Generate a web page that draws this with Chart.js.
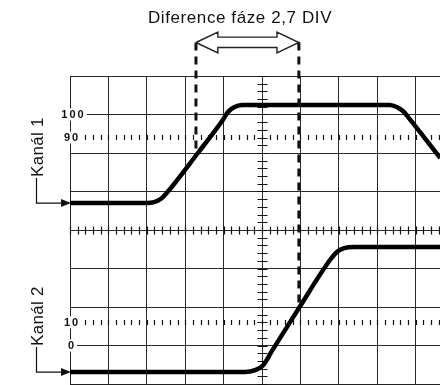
<!DOCTYPE html>
<html>
<head>
<meta charset="utf-8">
<script src="https://cdn.jsdelivr.net/npm/chart.js@4.4.1/dist/chart.umd.min.js"></script>
<style>
  html, body { margin: 0; padding: 0; background: #fff; overflow: hidden; }
  canvas { display: block; }
</style>
</head>
<body>
<canvas id="scope" width="440" height="385"></canvas>
<script>
// screen units are graticule divisions (x: 0..10, y: 0..8)
const titleText = 'Diference fáze 2,7 DIV';
const channelNames = ['Kanál 1', 'Kanál 2'];

const ch1X = [0, 2.0, 2.21, 2.37, 2.5, 3.33, 3.96, 4.11, 4.27, 4.48, 8.33, 8.52, 8.67, 8.8, 9.64];
const ch1Y = [4.70, 4.70, 4.73, 4.81, 4.94, 6.0, 6.83, 7.06, 7.19, 7.25, 7.25, 7.19, 7.09, 6.94, 5.87];

const ch2X = [0, 4.56, 4.82, 5.03, 5.26, 5.96, 6.77, 6.95, 7.14, 7.40, 9.64];
const ch2Y = [0.31, 0.31, 0.36, 0.49, 0.86, 1.97, 3.22, 3.43, 3.53, 3.56, 3.56];

// phase difference markers
const markerX = [3.28, 5.96];
const markerTop = 8.87;
const markerBottom = [6.0, 1.97];

// double arrow outline between the markers
const arrowX = [3.28, 3.85, 3.85, 5.39, 5.39, 5.96, 5.39, 5.39, 3.85, 3.85, 3.28];
const arrowY = [8.87, 9.14, 9.01, 9.01, 9.14, 8.87, 8.60, 8.74, 8.74, 8.60, 8.87];

// rise time levels
const levelLabels = ['100', '90', '10', '0'];
const levelValues = [7, 6.4, 1.6, 1];
const dottedLevels = [6.4, 1.6];

const centerX = 5, centerY = 4, minorStep = 0.2;

function pts(xs, ys) {
    return xs.map((v, i) => ({x: v, y: ys[i]}));
}

const graticule = {
    id: 'graticule',
    beforeDatasetsDraw(chart) {
        const {ctx, scales: {x, y}} = chart;
        const cx = Math.round(x.getPixelForValue(centerX)) + 0.5;
        const cy = Math.round(y.getPixelForValue(centerY)) + 0.5;
        ctx.save();
        ctx.strokeStyle = '#111';
        ctx.lineWidth = 1.2;
        ctx.beginPath();
        for (let v = 0; v <= x.max + 1e-6; v += minorStep) {
            const px = Math.round(x.getPixelForValue(v)) + 0.5;
            ctx.moveTo(px, cy - 4); ctx.lineTo(px, cy + 4);
            dottedLevels.forEach(l => {
                const py = y.getPixelForValue(l);
                ctx.moveTo(px, py - 2.5); ctx.lineTo(px, py + 2.5);
            });
        }
        for (let v = 0; v <= y.max + 1e-6; v += minorStep) {
            const py = Math.round(y.getPixelForValue(v)) + 0.5;
            ctx.moveTo(cx - 5, py); ctx.lineTo(cx + 5, py);
        }
        ctx.stroke();
        ctx.restore();
    },
    afterDatasetsDraw(chart) {
        const {ctx, scales: {x, y}, chartArea} = chart;
        ctx.save();
        ctx.fillStyle = '#111';
        ctx.strokeStyle = '#111';

        // level labels over the left border
        ctx.font = 'bold 11px "Liberation Sans", Arial, sans-serif';
        ctx.letterSpacing = '2px';
        ctx.textBaseline = 'middle';
        ctx.textAlign = 'center';
        levelLabels.forEach((t, i) => {
            const py = y.getPixelForValue(levelValues[i]);
            const w = ctx.measureText(t).width;
            const lx = chartArea.left + (t.length === 3 ? 2.5 : 1);
            ctx.fillStyle = '#fff';
            ctx.fillRect(lx - w / 2 - 3, py - 6, w + 5, 12);
            ctx.fillStyle = '#111';
            ctx.fillText(t, lx + 1, py + 0.5);
        });

        // channel names with pointer to the trace start
        ctx.font = '17px "Liberation Sans", Arial, sans-serif';
        ctx.letterSpacing = '0.3px';
        ctx.textBaseline = 'alphabetic';
        const base = [ch1Y[0], ch2Y[0]];
        channelNames.forEach((name, i) => {
            const by = y.getPixelForValue(base[i]);
            const ty = by - 56;
            ctx.save();
            ctx.translate(chartArea.left - 27, ty);
            ctx.rotate(-Math.PI / 2);
            ctx.fillText(name, 0, 0);
            ctx.restore();
            const bx = chartArea.left - 33.5;
            ctx.lineWidth = 1.2;
            ctx.beginPath();
            ctx.moveTo(bx, ty + 31);
            ctx.lineTo(bx, by);
            ctx.lineTo(chartArea.left - 8, by);
            ctx.stroke();
            ctx.beginPath();
            ctx.moveTo(chartArea.left - 9, by - 4);
            ctx.lineTo(chartArea.left + 1, by);
            ctx.lineTo(chartArea.left - 9, by + 4);
            ctx.closePath();
            ctx.fill();
        });

        // title
        ctx.font = '17px "Liberation Sans", Arial, sans-serif';
        ctx.letterSpacing = '0.6px';
        ctx.textAlign = 'center';
        ctx.fillText(titleText, 240, 23);
        ctx.restore();
    }
};

const dashed = {
    borderColor: '#111',
    borderWidth: 3,
    borderDash: [8, 6],
    pointRadius: 0,
    showLine: true,
    clip: false
};

new Chart(document.getElementById('scope'), {
    type: 'scatter',
    data: {
        datasets: [
            Object.assign({data: pts([markerX[0], markerX[0]], [markerTop, markerBottom[0]])}, dashed),
            Object.assign({data: pts([markerX[1], markerX[1]], [markerTop, markerBottom[1]])}, dashed),
            {
                data: pts(arrowX, arrowY),
                showLine: true,
                borderColor: '#222',
                borderWidth: 1.4,
                borderJoinStyle: 'miter',
                pointRadius: 0,
                clip: false
            },
            {
                label: channelNames[0],
                data: pts(ch1X, ch1Y),
                showLine: true,
                borderColor: '#000',
                borderWidth: 4.5,
                cubicInterpolationMode: 'monotone',
                pointRadius: 0
            },
            {
                label: channelNames[1],
                data: pts(ch2X, ch2Y),
                showLine: true,
                borderColor: '#000',
                borderWidth: 4.5,
                cubicInterpolationMode: 'monotone',
                pointRadius: 0
            }
        ]
    },
    options: {
        responsive: false,
        devicePixelRatio: 1,
        animation: false,
        events: [],
        layout: { padding: { left: 70, top: 76, right: 0, bottom: 1 } },
        plugins: {
            legend: { display: false },
            tooltip: { enabled: false },
            title: { display: false }
        },
        scales: {
            x: {
                type: 'linear',
                min: 0,
                max: 9.635,
                ticks: { display: false, stepSize: 1, includeBounds: false },
                grid: { color: '#2a2a2a', lineWidth: 1, drawTicks: false },
                border: { display: true, color: '#222', width: 1 }
            },
            y: {
                type: 'linear',
                min: 0,
                max: 8,
                ticks: { display: false, stepSize: 1, includeBounds: false },
                grid: { color: '#2a2a2a', lineWidth: 1, drawTicks: false },
                border: { display: true, color: '#222', width: 1 }
            }
        }
    },
    plugins: [graticule]
});
</script>
</body>
</html>
